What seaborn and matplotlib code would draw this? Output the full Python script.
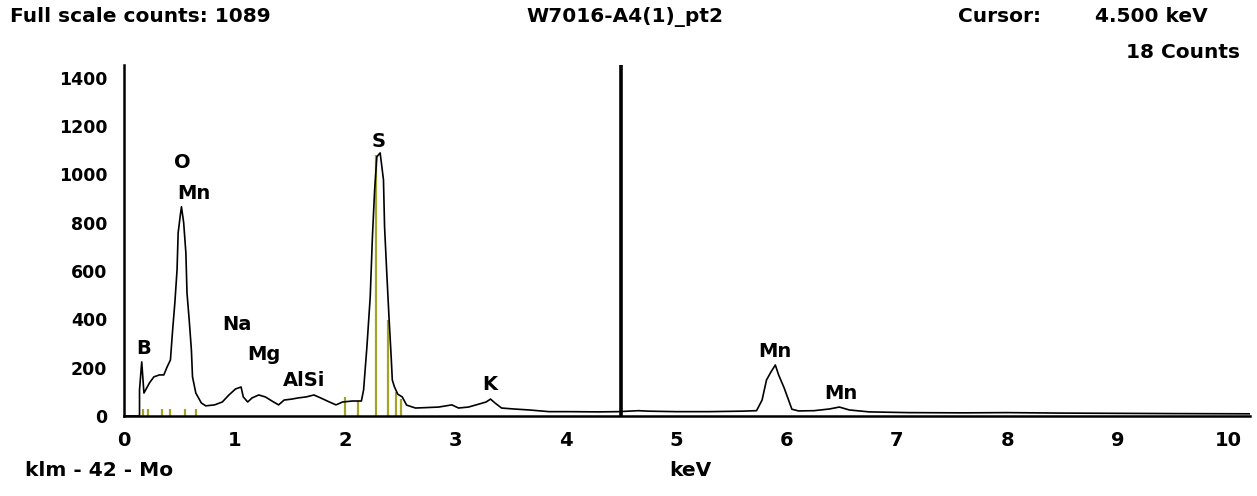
import numpy as np
import pandas as pd
import matplotlib
matplotlib.use("Agg")
import matplotlib.pyplot as plt
import seaborn as sns

# ── Spectrum (keV, counts) ───────────────────────────────────────────────────
energy = [0.00, 0.14, 0.14, 0.16, 0.18, 0.23, 0.27, 0.32, 0.36, 0.39,
          0.42, 0.44, 0.46, 0.48, 0.49, 0.51, 0.52, 0.54, 0.56, 0.57,
          0.59, 0.61, 0.62, 0.65, 0.70, 0.74, 0.82, 0.89, 0.95, 1.01,
          1.06, 1.08, 1.12, 1.16, 1.22, 1.28, 1.34, 1.40, 1.45, 1.52,
          1.58, 1.65, 1.72, 1.78, 1.86, 1.92, 1.98, 2.07, 2.15, 2.17,
          2.20, 2.23, 2.25, 2.27, 2.29, 2.32, 2.35, 2.36, 2.38, 2.40,
          2.42, 2.43, 2.45, 2.48, 2.52, 2.56, 2.64, 2.75, 2.85, 2.97,
          3.03, 3.12, 3.22, 3.28, 3.32, 3.36, 3.42, 3.53, 3.67, 3.85,
          4.03, 4.30, 4.48, 4.66, 4.75, 5.00, 5.30, 5.60, 5.73, 5.78,
          5.82, 5.86, 5.90, 5.93, 5.98, 6.02, 6.05, 6.11, 6.25, 6.39,
          6.48, 6.57, 6.66, 6.75, 7.10, 7.60, 8.00, 8.50, 9.00, 9.50,
          10.20]
counts = [0, 0, 108, 224, 95, 137, 162, 170, 170, 203,
          232, 356, 468, 605, 758, 833, 866, 800, 675, 510,
          398, 273, 162, 95, 54, 42, 46, 58, 87, 112,
          120, 79, 58, 75, 87, 79, 62, 46, 66, 70,
          75, 79, 87, 75, 58, 46, 58, 62, 62, 108,
          286, 493, 742, 936, 1073, 1089, 978, 783, 592, 410,
          244, 149, 120, 90, 79, 45, 33, 35, 37, 46,
          33, 37, 50, 58, 70, 54, 33, 29, 25, 18,
          18, 17, 18, 22, 20, 18, 18, 20, 22, 66,
          149, 182, 211, 170, 116, 66, 28, 21, 22, 29,
          37, 25, 21, 17, 14, 13, 14, 12, 11, 10,
          9]

# KLM marker lines (Mo)
klm_energy = [0.17, 0.22, 0.34, 0.42, 0.55, 0.65, 2.00, 2.12, 2.28, 2.39, 2.46, 2.51]
klm_height = [30, 30, 30, 30, 30, 30, 79, 62, 1081, 398, 100, 70]

# Peak labels
peak_names = ["O", "Mn", "B", "Na", "Mg", "AlSi", "S", "K", "Mn", "Mn"]
peak_x     = [0.525, 0.634, 0.18, 1.02, 1.27, 1.63, 2.31, 3.31, 5.90, 6.49]
peak_y     = [1048, 923, 278, 377, 253, 145, 1135, 129, 265, 95]

x_ticks = [0, 1, 2, 3, 4, 5, 6, 7, 8, 9, 10]
y_ticks = [0, 200, 400, 600, 800, 1000, 1200, 1400]
cursor_kev = 4.5

sns.set_style("white")
plt.rcParams["font.family"] = ["DejaVu Sans"]
plt.rcParams["font.weight"] = "bold"
plt.rcParams["text.color"] = "black"

spec = pd.DataFrame({"energy": energy, "counts": counts})

fig = plt.figure(figsize=(12.57, 4.96), dpi=100)
ax = fig.add_axes([0.0987, 0.1613, 0.8957, 0.7077])

ax.vlines(klm_energy, 0, klm_height, color="#a3a326", lw=1.6, zorder=1)
sns.lineplot(data=spec, x="energy", y="counts", sort=False, estimator=None,
             color="black", lw=1.2, ax=ax, zorder=2)
ax.axvline(cursor_kev, color="black", lw=2.6, zorder=3)

for name, px, py in zip(peak_names, peak_x, peak_y):
    ax.text(px, py, name, ha="center", va="center", fontsize=14,
            fontweight="bold", color="black")

ax.set_xlim(0, 10.2)
ax.set_ylim(0, 1453)
ax.set_xticks(x_ticks)
ax.set_yticks(y_ticks)
ax.set_xlabel("")
ax.set_ylabel("")
ax.tick_params(axis="both", direction="out", length=9, width=1.6, colors="black")
ax.tick_params(axis="x", pad=1.5, labelsize=14)
ax.tick_params(axis="y", pad=3, labelsize=12.5)
for lab in ax.get_xticklabels() + ax.get_yticklabels():
    lab.set_fontweight("bold")

for side in ["top", "right"]:
    ax.spines[side].set_visible(False)
for side in ["left", "bottom"]:
    ax.spines[side].set_linewidth(1.8)
    ax.spines[side].set_color("black")

# Header and footer text
hdr = dict(fontsize=14.5, fontweight="bold", color="black", va="center")
fig.text(10 / 1257, 1 - 17 / 496, "Full scale counts: 1089", ha="left", **hdr)
fig.text(625 / 1257, 1 - 17 / 496, "W7016-A4(1)_pt2", ha="center", **hdr)
fig.text(958 / 1257, 1 - 17 / 496, "Cursor:", ha="left", **hdr)
fig.text(1208 / 1257, 1 - 17 / 496, "4.500 keV", ha="right", **hdr)
fig.text(1240 / 1257, 1 - 52 / 496, "18 Counts", ha="right", **hdr)
fig.text(25 / 1257, 1 - 471 / 496, "klm - 42 - Mo", ha="left", **hdr)
fig.text(690 / 1257, 1 - 471 / 496, "keV", ha="center", **hdr)

fig.savefig("out.png", dpi=100)
plt.close(fig)
